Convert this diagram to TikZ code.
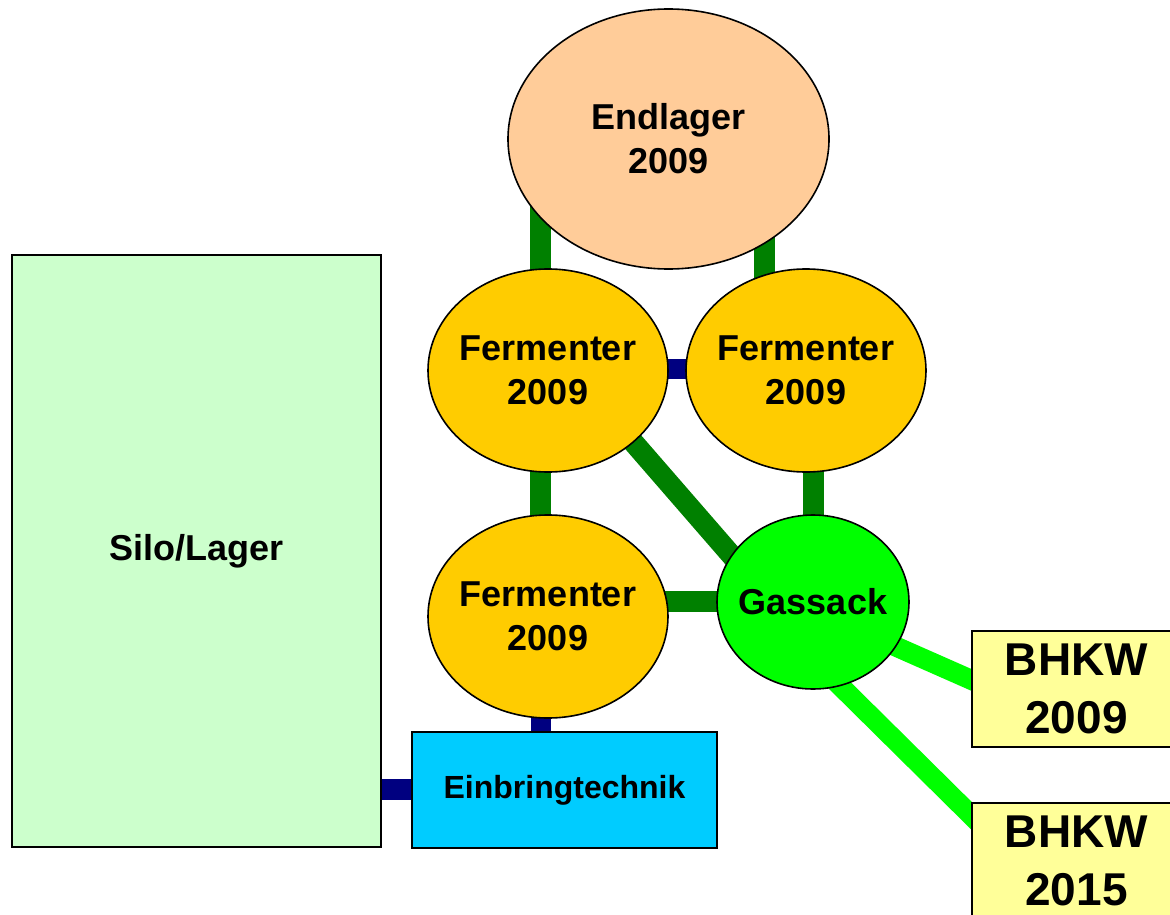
\documentclass[tikz,border=0pt]{standalone}
\usepackage{fontspec}
\setmainfont{Liberation Sans}
\usetikzlibrary{shapes.geometric,calc}
\pgfdeclarelayer{pipes}
\pgfsetlayers{pipes,main}
\definecolor{storefill}{HTML}{FFCC99}
\definecolor{tankfill}{HTML}{FFCC00}
\definecolor{gasfill}{HTML}{00FF00}
\definecolor{silofill}{HTML}{CCFFCC}
\definecolor{feedfill}{HTML}{00CCFF}
\definecolor{chpfill}{HTML}{FFFF99}
\definecolor{digestpipe}{HTML}{008000}
\definecolor{feedpipe}{HTML}{000080}
\definecolor{gaspipe}{HTML}{00FF00}
\begin{document}
\begin{tikzpicture}[x=1pt,y=-1pt,
  lbl/.style={align=center,font=\bfseries\fontsize{36}{44}\selectfont},
  vessel/.style={ellipse,draw=black,line width=1.6pt,inner sep=0pt,outer sep=0pt},
  block/.style={lbl,rectangle,draw=black,line width=2pt,inner sep=0pt,outer sep=0pt},
  greenpipe/.style={draw=digestpipe,line width=21pt},
  navypipe/.style={draw=feedpipe,line width=20pt},
  gasline/.style={draw=gaspipe,line width=20pt}]
\useasboundingbox (0,0) rectangle (1170,915);
\clip (0,0) rectangle (1170,915);

% storage, digesters and gas holder (text set as centred labels)
\node[vessel,fill=storefill,minimum width=321pt,minimum height=260pt,
  label={[lbl]center:{Endlager\\2009}}] (End) at (668.5,139) {};
\node[vessel,fill=tankfill,minimum width=240pt,minimum height=203pt,
  label={[lbl]center:{Fermenter\\2009}}] (FL) at (548,370.5) {};
\node[vessel,fill=tankfill,minimum width=240pt,minimum height=203pt,
  label={[lbl]center:{Fermenter\\2009}}] (FR) at (806,370.5) {};
\node[vessel,fill=tankfill,minimum width=240pt,minimum height=203pt,
  label={[lbl]center:{Fermenter\\2009}}] (FB) at (548,616.5) {};
\node[vessel,fill=gasfill,minimum width=192pt,minimum height=174pt,
  label={[lbl]center:Gassack}] (Gas) at (813,602) {};

% feed side
\node[block,fill=silofill,minimum width=369pt,minimum height=592pt] (Silo) at (196.5,551) {Silo/Lager};
\node[block,fill=feedfill,minimum width=305pt,minimum height=116pt,font=\bfseries\fontsize{32}{38}\selectfont] (Ein) at (564.5,790) {Einbringtechnik};

% CHP units
\node[block,fill=chpfill,minimum width=209pt,minimum height=116pt,font=\bfseries\fontsize{46}{58}\selectfont] (B1) at (1076.5,689) {BHKW\\2009};
\node[block,fill=chpfill,minimum width=209pt,minimum height=116pt,font=\bfseries\fontsize{46}{58}\selectfont] (B2) at (1076.5,861) {BHKW\\2015};

% pipework behind the vessels
\begin{pgfonlayer}{pipes}
\draw[greenpipe] ($(End.center)+(-128,0)$) -- ($(FL.center)+(-7.5,0)$);
\draw[greenpipe] ($(End.center)+(96,0)$) -- ($(FR.center)+(-41.5,0)$);
\draw[greenpipe] ($(FL.center)+(-7.5,0)$) -- ($(FB.center)+(-7.5,0)$);
\draw[greenpipe] ($(FR.center)+(7,0)$) -- (Gas.center);
\draw[greenpipe] ($(FB.center)+(0,-15)$) -- ($(Gas.center)+(0,-0.5)$);
\draw[greenpipe] ($(FL.center)+(23,0)$) -- ($(Gas.center)+(-41,0)$);
\draw[navypipe] ($(FL.center)+(0,-1.5)$) -- ($(FR.center)+(0,-1.5)$);
\draw[navypipe] ($(FB.center)+(-7.5,0)$) -- ($(Ein.center)+(-24,0)$);
\draw[navypipe,line width=21pt] ($(Silo.center)+(0,238.5)$) -- ($(Ein.center)+(0,-0.5)$);
\draw[gasline] ($(Gas.center)+(0,8)$) -- ($(B1.west)+(20,0)$);
\draw[gasline] ($(Gas.center)+(0,57)$) -- ($(B2.west)+(20,-25)$);
\end{pgfonlayer}
\end{tikzpicture}
\end{document}
